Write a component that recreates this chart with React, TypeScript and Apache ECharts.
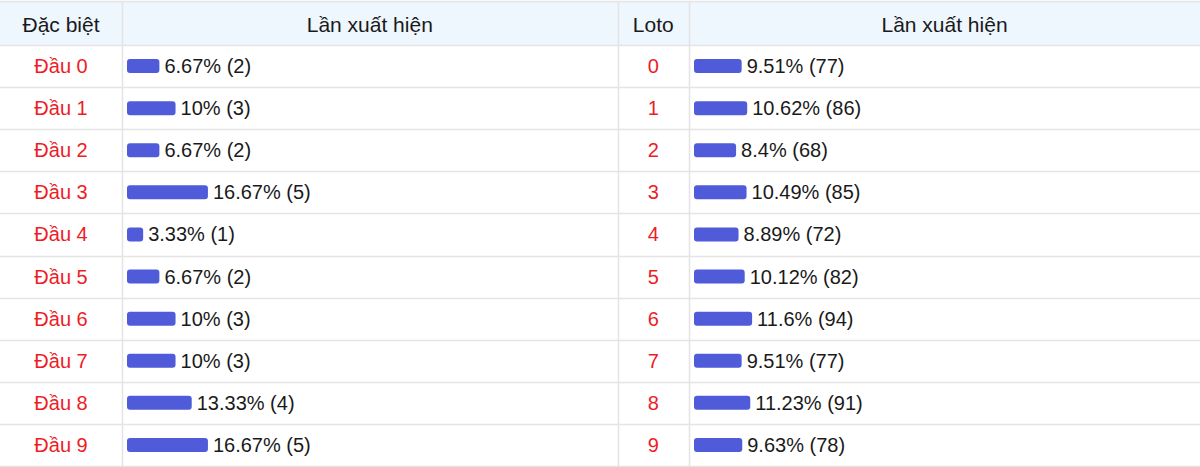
import React, { useEffect, useRef } from "react";
import * as echarts from "echarts";

const dbLabels = ["Đầu 0", "Đầu 1", "Đầu 2", "Đầu 3", "Đầu 4", "Đầu 5", "Đầu 6", "Đầu 7", "Đầu 8", "Đầu 9"];
const dbPct = [6.67, 10, 6.67, 16.67, 3.33, 6.67, 10, 10, 13.33, 16.67];
const dbCount = [2, 3, 2, 5, 1, 2, 3, 3, 4, 5];

const lotoLabels = ["0", "1", "2", "3", "4", "5", "6", "7", "8", "9"];
const lotoPct = [9.51, 10.62, 8.4, 10.49, 8.89, 10.12, 11.6, 9.51, 11.23, 9.63];
const lotoCount = [77, 86, 68, 85, 72, 82, 94, 77, 91, 78];

const headers = ["Đặc biệt", "Lần xuất hiện", "Loto", "Lần xuất hiện"];

const W = 1200;
const H = 467;
const HEAD_TOP = 1;
const HEAD_BOTTOM = 45;
const ROW_H = 42.1;
const COLS = [0, 122, 617.5, 689, 1200];
const FONT = "Arial, 'Liberation Sans', sans-serif";
const LINE = "#e4e4e4";
const RED = "#ee1c25";
const BAR = "#4f5bd8";
const TXT = "#1a1a1a";

export default function App() {
  const ref = useRef<HTMLDivElement>(null);
  useEffect(() => {
    if (!ref.current) return;
    const chart = echarts.init(ref.current, null, { renderer: "svg" });
    const nRows = dbLabels.length;
    const bodyH = ROW_H * nRows;

    const graphic: any[] = [];
    graphic.push({
      type: "rect",
      silent: true,
      z: -10,
      shape: { x: 0, y: HEAD_TOP, width: W, height: HEAD_BOTTOM - HEAD_TOP },
      style: { fill: "#eef6fe" },
    });
    const ys = [HEAD_TOP];
    for (let k = 0; k <= nRows; k++) ys.push(HEAD_BOTTOM + ROW_H * k);
    ys.forEach((y) => {
      const yy = Math.round(y) + 0.5;
      graphic.push({
        type: "line",
        silent: true,
        z: -5,
        shape: { x1: 0, y1: yy, x2: W, y2: yy },
        style: { stroke: LINE, lineWidth: 1.5 },
      });
    });
    [COLS[1], COLS[2], COLS[3]].forEach((x) => {
      const xx = Math.round(x) + 0.5;
      graphic.push({
        type: "line",
        silent: true,
        z: -5,
        shape: { x1: xx, y1: HEAD_TOP, x2: xx, y2: HEAD_BOTTOM + bodyH },
        style: { stroke: LINE, lineWidth: 1.5 },
      });
    });
    headers.forEach((h, i) => {
      graphic.push({
        type: "text",
        silent: true,
        x: (COLS[i] + COLS[i + 1]) / 2,
        y: (HEAD_TOP + HEAD_BOTTOM) / 2 + 1,
        style: {
          text: h,
          fill: TXT,
          font: `21px ${FONT}`,
          align: "center",
          verticalAlign: "middle",
        },
      });
    });

    const leftGridLeft = COLS[1] + 5;
    const leftGridW = COLS[2] - COLS[1] - 10;
    const rightGridLeft = COLS[3] + 5;
    const rightGridW = COLS[4] - COLS[3] - 10;

    const mkLabel = (counts: number[]) => ({
      show: true,
      position: "right",
      distance: 5,
      color: TXT,
      fontSize: 20,
      fontFamily: FONT,
      formatter: (p: any) => `${p.value}% (${counts[p.dataIndex]})`,
    });

    const yLabel = (margin: number) => ({
      margin,
      align: "center",
      color: RED,
      fontSize: 20,
      fontFamily: FONT,
    });

    chart.setOption({
      animation: false,
      graphic,
      grid: [
        { left: leftGridLeft, width: leftGridW, top: HEAD_BOTTOM, height: bodyH, containLabel: false },
        { left: rightGridLeft, width: rightGridW, top: HEAD_BOTTOM, height: bodyH, containLabel: false },
      ],
      xAxis: [
        { type: "value", gridIndex: 0, min: 0, max: 100, show: false },
        { type: "value", gridIndex: 1, min: 0, max: 100, show: false },
      ],
      yAxis: [
        {
          type: "category",
          gridIndex: 0,
          inverse: true,
          data: dbLabels,
          axisLine: { show: false },
          axisTick: { show: false },
          splitLine: { show: false },
          axisLabel: yLabel(leftGridLeft - (COLS[0] + COLS[1]) / 2),
        },
        {
          type: "category",
          gridIndex: 1,
          inverse: true,
          data: lotoLabels,
          axisLine: { show: false },
          axisTick: { show: false },
          splitLine: { show: false },
          axisLabel: yLabel(rightGridLeft - (COLS[2] + COLS[3]) / 2),
        },
      ],
      series: [
        {
          type: "bar",
          xAxisIndex: 0,
          yAxisIndex: 0,
          data: dbPct,
          barWidth: 14,
          itemStyle: { color: BAR, borderRadius: 3 },
          label: mkLabel(dbCount),
        },
        {
          type: "bar",
          xAxisIndex: 1,
          yAxisIndex: 1,
          data: lotoPct,
          barWidth: 14,
          itemStyle: { color: BAR, borderRadius: 3 },
          label: mkLabel(lotoCount),
        },
      ],
    });
    return () => chart.dispose();
  }, []);

  return (
    <div
      ref={ref}
      style={{ position: "fixed", left: 0, top: 0, width: W, height: H, background: "#ffffff" }}
    />
  );
}
